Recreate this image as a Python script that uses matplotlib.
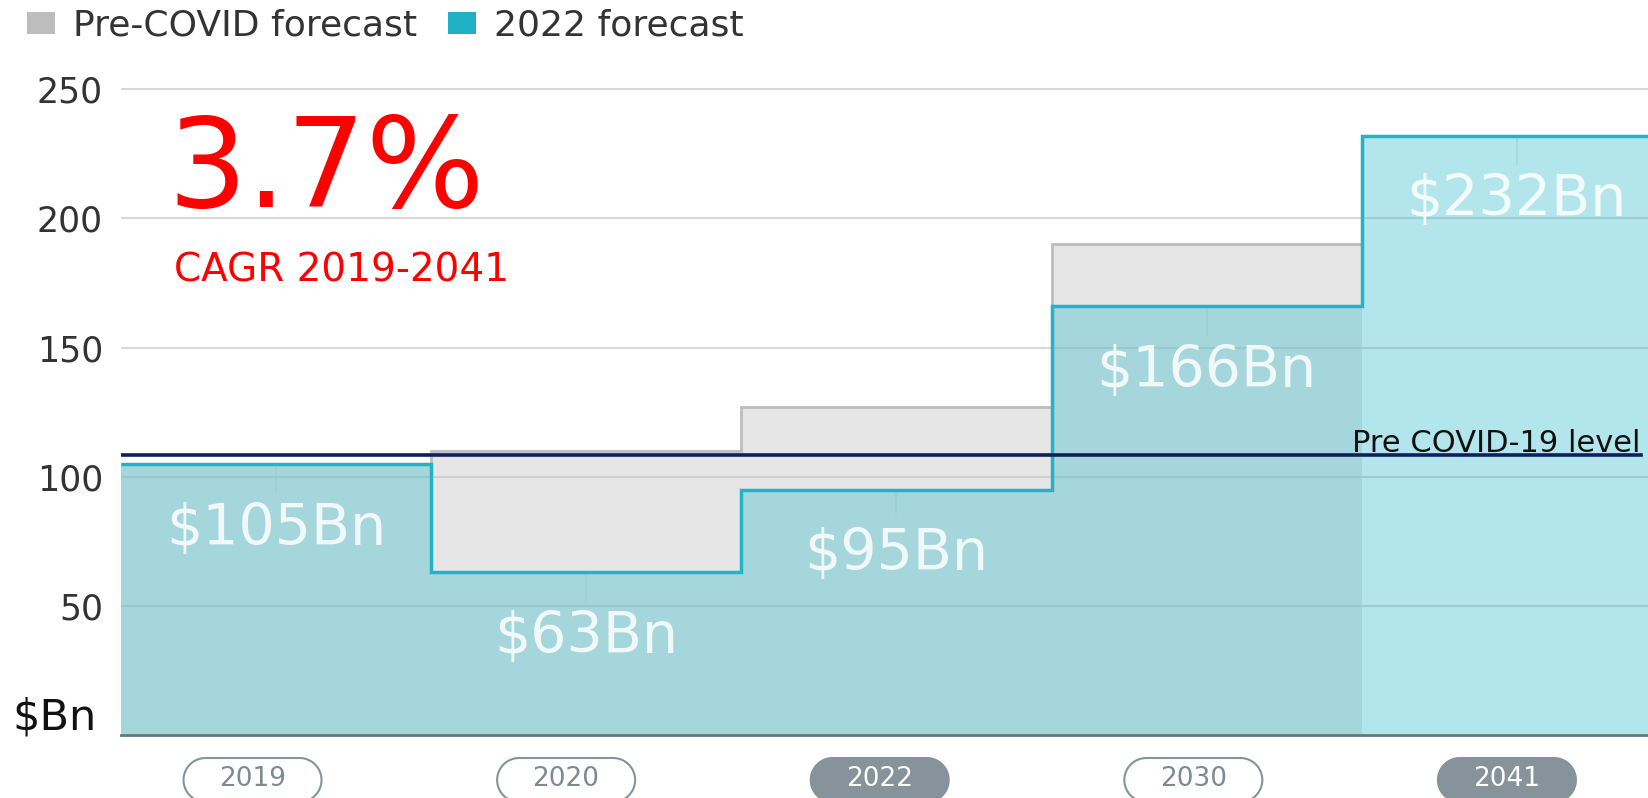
import numpy as np
import matplotlib
matplotlib.use("Agg")
import matplotlib.pyplot as plt
from matplotlib.patches import Patch, Polygon

# data
years = ["2019", "2020", "2022", "2030", "2041"]
forecast_2022 = [105, 63, 95, 166, 232]
pre_covid = [105, 110, 127, 190]          # no pre-COVID bar visible for 2041
value_labels = ["$105Bn", "$63Bn", "$95Bn", "$166Bn", "$232Bn"]
pre_covid_level = 108.5
highlight = ["2022", "2041"]

plt.rcParams['font.family'] = ['DejaVu Sans']

fig = plt.figure(figsize=(16.49, 7.98), dpi=100)
ax = fig.add_axes([121 / 1649, 63 / 798, 1528 / 1649, 651 / 798])

n = len(years)
edges = np.arange(n + 1)

# grey pre-covid steps
ax.stairs(pre_covid, edges[:len(pre_covid) + 1], fill=True, color="#e6e6e6", zorder=1)
ax.stairs(pre_covid, edges[:len(pre_covid) + 1], baseline=None, color="#bdbdbd", lw=2, zorder=2)

# cyan 2022 forecast steps
ax.stairs(forecast_2022, edges, fill=True, color="#3cbfce", alpha=0.39, lw=0, zorder=3)
ax.stairs(forecast_2022, edges, baseline=None, color="#22b4c6", lw=2.5, zorder=5)

# faint marks below each step top
for i, v in enumerate(forecast_2022):
    ax.plot([i + 0.5, i + 0.5], [v, v - 11], color="#8fcbd3", lw=1.2, alpha=0.5, zorder=4)

# pre-covid level line
ax.plot([0, 4.9], [pre_covid_level, pre_covid_level], color="#0d1f5c", lw=2.6, zorder=6)
ax.text(4.9, pre_covid_level + 1.0, "Pre COVID-19 level", ha="right", va="baseline",
        fontsize=22, color="#111111", zorder=7)

# value labels
for i, (v, lab) in enumerate(zip(forecast_2022, value_labels)):
    ax.annotate(lab, (i + 0.5, v), xytext=(0, -47), textcoords="offset points",
                ha="center", va="center", fontsize=41, color="white", alpha=0.85, zorder=7)

ax.set_xlim(0, 4.926)
ax.set_ylim(0, 252)
ax.set_yticks([50, 100, 150, 200, 250])
ax.tick_params(axis="y", length=0, pad=13, labelsize=25, labelcolor="#333333")
ax.set_xticks([])
ax.grid(axis="y", color="#c8c8c8", lw=1.5, alpha=0.7, zorder=4)
ax.set_axisbelow(False)
for s in ["top", "right", "left"]:
    ax.spines[s].set_visible(False)
ax.spines["bottom"].set_color("#5f7a7e")
ax.spines["bottom"].set_linewidth(2)
ax.spines["bottom"].set_zorder(8)


def pill(cx, cy, w, h):
    # outline of a rounded pill in inches
    r = h / 2
    t = np.linspace(-np.pi / 2, np.pi / 2, 30)
    right = np.column_stack([cx + w / 2 - r + r * np.cos(t), cy + r * np.sin(t)])
    left = np.column_stack([cx - w / 2 + r - r * np.cos(t), cy - r * np.sin(t)])
    return np.vstack([right, left])


# year pills below the axis
pw, ph = 138 / 100, 44 / 100
cy = (798 - 780) / 100
for i, yr in enumerate(years):
    cx_data = 0.424 + 1.011 * i
    cx = ax.transData.transform((cx_data, 0))[0] / fig.dpi
    filled = yr in highlight
    box = Polygon(pill(cx, cy, pw, ph), closed=True, transform=fig.dpi_scale_trans,
                  facecolor="#87939a" if filled else "white",
                  edgecolor="#87939a", lw=1.5, clip_on=False)
    fig.add_artist(box)
    fig.text(cx / 16.49, (cy + 0.01) / 7.98, yr, ha="center", va="center", fontsize=19,
             color="white" if filled else "#7f8a90")

# big CAGR annotation
fig.text(167 / 1649, (798 - 207) / 798, "3.7%", color="red", fontsize=90,
         ha="left", va="baseline")
fig.text(174 / 1649, (798 - 282) / 798, "CAGR 2019-2041", color="red", fontsize=28,
         ha="left", va="baseline")

# unit label
fig.text(12 / 1649, (798 - 730) / 798, "$Bn", color="#111111", fontsize=31,
         ha="left", va="baseline")

# legend
handles = [Patch(facecolor="#bdbdbd", edgecolor="none", label="Pre-COVID forecast"),
           Patch(facecolor="#1fb0c4", edgecolor="none", label="2022 forecast")]
fig.legend(handles=handles, loc="upper left", bbox_to_anchor=(23 / 1649, 1 - 5 / 798), ncol=2,
           frameon=False, fontsize=26, handlelength=0.78, handleheight=0.58,
           handletextpad=0.5, columnspacing=0.85, borderpad=0.1, borderaxespad=0,
           labelcolor="#333333")

fig.savefig("out.png", dpi=100)
